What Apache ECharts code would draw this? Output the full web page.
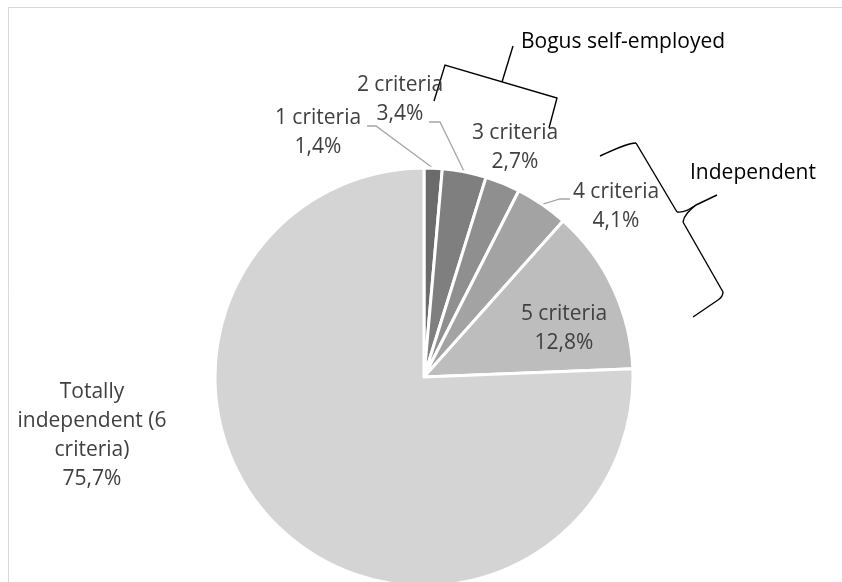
<!DOCTYPE html>
<html>
<head>
<meta charset="utf-8">
<style>
  html, body { margin: 0; padding: 0; background: #ffffff; }
  #chart { width: 842px; height: 582px; }
</style>
<script src="https://cdn.jsdelivr.net/npm/echarts@6/dist/echarts.min.js"></script>
</head>
<body>
<div id="chart"></div>
<script>
// Share of respondents by number of independence criteria met
const categories = [
  '1 criteria',
  '2 criteria',
  '3 criteria',
  '4 criteria',
  '5 criteria',
  'Totally\nindependent (6\ncriteria)'
];
const shares = [1.4, 3.4, 2.7, 4.1, 12.8, 75.7];
const sliceColors = ['#6b6b6b', '#7f7f7f', '#8f8f8f', '#a3a3a3', '#bdbdbd', '#d4d4d4'];
const groupNames = ['Bogus self-employed', 'Independent'];

// label anchor (block centre) and optional elbow of the leader line
const labelPlacement = [
  { x: 318, y: 133, line: [[376, 126], [367, 126]] },
  { x: 400, y: 100, line: [[440, 122], [429, 122]] },
  { x: 515, y: 148, line: null },
  { x: 616, y: 207, line: [[560, 199], [570, 199]] },
  { x: 564, y: 329, line: null },
  { x: 92,  y: 436, line: null }
];

const fmt = v => String(v).replace('.', ',') + '%';

const chart = echarts.init(document.getElementById('chart'), null, { renderer: 'canvas' });

const textStyleBase = {
  fontFamily: 'Open Sans',
  fontSize: 21,
  lineHeight: 29,
  color: '#404040'
};

const inkStyle = { fill: null, stroke: '#000000', lineWidth: 1.4 };

function seg(x1, y1, x2, y2) {
  return { type: 'line', silent: true, shape: { x1, y1, x2, y2 }, style: inkStyle };
}
function curve(x1, y1, cpx1, cpy1, cpx2, cpy2, x2, y2) {
  return { type: 'bezierCurve', silent: true,
           shape: { x1, y1, cpx1, cpy1, cpx2, cpy2, x2, y2 }, style: inkStyle };
}

chart.setOption({
  animation: false,
  backgroundColor: '#ffffff',
  series: [{
    type: 'pie',
    center: [424, 377],
    radius: 209,
    startAngle: 90,
    clockwise: true,
    silent: true,
    avoidLabelOverlap: false,
    itemStyle: { borderColor: '#ffffff', borderWidth: 3 },
    label: Object.assign({
      show: true,
      position: 'outside',
      align: 'center',
      formatter: p => p.name + '\n' + fmt(p.value)
    }, textStyleBase),
    labelLine: {
      show: true,
      length: 10,
      length2: 10,
      lineStyle: { color: '#a6a6a6', width: 1.3 }
    },
    data: categories.map((name, i) => ({
      name: name,
      value: shares[i],
      itemStyle: { color: sliceColors[i] },
      labelLine: { show: !!labelPlacement[i].line }
    })),
    labelLayout: function (params) {
      const p = labelPlacement[params.dataIndex];
      const out = { x: p.x, y: p.y, align: 'center', verticalAlign: 'middle' };
      if (p.line && params.labelLinePoints) {
        out.labelLinePoints = [params.labelLinePoints[0], p.line[0], p.line[1]];
      }
      return out;
    }
  }],
  graphic: [
    // chart frame (top and left edges inside the view)
    {
      type: 'rect',
      silent: true,
      shape: { x: 8.5, y: 7.5, width: 900, height: 700 },
      style: { fill: null, stroke: '#d9d9d9', lineWidth: 1 }
    },
    // square bracket over the 1-3 criteria labels
    {
      type: 'polyline',
      silent: true,
      shape: { points: [[434, 101], [445, 65], [557, 98], [549, 128]] },
      style: inkStyle
    },
    seg(502, 82, 513, 46),
    {
      type: 'text',
      silent: true,
      style: {
        text: groupNames[0],
        x: 521, y: 42,
        textVerticalAlign: 'middle',
        font: '21px "Open Sans"',
        fill: '#000000'
      }
    },
    // curly brace beside the 4-5 criteria slices
    curve(600, 156, 615, 149, 628, 143, 636, 143),
    seg(636, 143, 677, 212),
    curve(677, 212, 684, 213, 690, 209, 696, 205),
    seg(696, 205, 717, 195),
    curve(696, 205, 690, 210, 684, 215, 683, 222),
    seg(683, 222, 723, 292),
    curve(723, 292, 723, 296, 721, 298, 718, 300),
    seg(718, 300, 693, 317),
    {
      type: 'text',
      silent: true,
      style: {
        text: groupNames[1],
        x: 690, y: 173,
        textVerticalAlign: 'middle',
        font: '21px "Open Sans"',
        fill: '#000000'
      }
    }
  ]
});
</script>
</body>
</html>
